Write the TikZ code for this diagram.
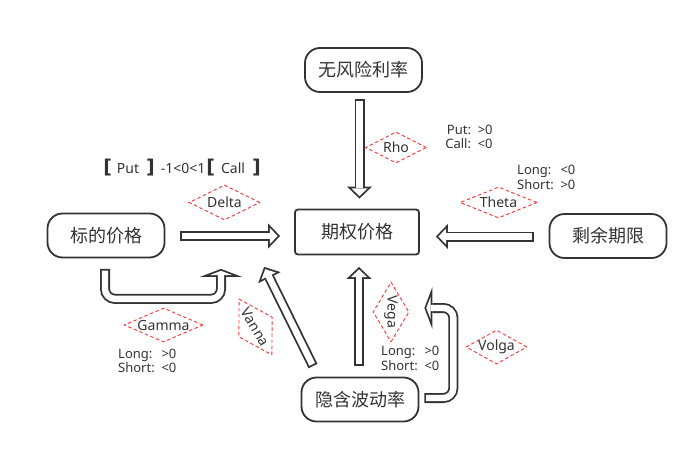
\documentclass[tikz,border=0pt]{standalone}
\usepackage{fontspec}
\setmainfont{Noto Sans}
\newfontfamily\cjk{Noto Sans CJK SC}
\newfontfamily\brkfont{DejaVu Sans}
\usetikzlibrary{arrows.meta,positioning,calc,shapes.geometric}

\definecolor{linec}{HTML}{333333}
\definecolor{dashred}{HTML}{FF3333}

\newcommand\brak[1]{{\brkfont\fontsize{19}{19}\selectfont\bfseries #1}}
\newcommand\gk[1]{\makebox[0pt]{#1}}

\tikzset{
  pill/.style={draw=linec, line width=1.8pt, rounded corners=15pt, minimum width=117pt,
    minimum height=44pt, inner sep=0pt, text=linec, font=\cjk\fontsize{18}{18}\selectfont},
  pricebox/.style={pill, rounded corners=3pt, minimum width=124pt, minimum height=45pt},
  greek/.style={diamond, draw=dashred, line width=0.9pt, dash pattern=on 3.5pt off 2.5pt,
    inner sep=0pt, text=linec, font=\fontsize{14}{14}\selectfont},
  sign/.style={inner sep=0pt, text=linec, font=\fontsize{13}{14.5}\selectfont},
  arrout/.style={line width=10pt, draw=linec, -{Triangle[length=12pt,width=25pt,line width=0pt]}},
  arrin/.style={line width=6.4pt, draw=white, -{Triangle[length=7.7pt,width=16pt,line width=0pt]},
    shorten >=2.5pt, shorten <=1.8pt},
  uout/.style={arrout, rounded corners=10pt, -{Triangle[length=8pt,width=42pt,line width=0pt]}},
  uin/.style={arrin, rounded corners=10pt, -{Triangle[length=4.3pt,width=22.5pt,line width=0pt]},
    shorten >=1.9pt},
}

\begin{document}
\begin{tikzpicture}[x=1pt,y=-1pt]
    \path[use as bounding box, fill=white] (0,0) rectangle (699,453);

    % Factors and option price
    \node[pill] (rate) at (363.5,70) {无风险利率};
    \node[pricebox] (price) at (357,232) {期权价格};
    \node[pill] (spot) at (106,235.5) {标的价格};
    \node[pill] (expiry) at (608,236) {剩余期限};
    \node[pill] (vol) at (360,399.5) {隐含波动率};

    % Straight hollow arrows
    \coordinate (rhoA) at ($(rate.south)+(-4,6)$);
    \coordinate (rhoB) at ($(price.north)+(2.5,-10)$);
    \coordinate (deltaA) at ($(spot.east)+(15,0.5)$);
    \coordinate (deltaB) at ($(price.west)+(-14,4)$);
    \coordinate (thetaA) at ($(expiry.west)+(-14.5,0.5)$);
    \coordinate (thetaB) at ($(price.east)+(16,4.5)$);
    \coordinate (vegaA) at ($(vol.north)+(-1,-10.5)$);
    \coordinate (vegaB) at ($(price.south)+(2,11.5)$);
    \coordinate (vannaA) at ($(vol.north)+(-47,-10.5)$);
    \coordinate (vannaB) at ($(price.south west)+(-30,11.5)$);

    \foreach \a/\b in {rhoA/rhoB, deltaA/deltaB, thetaA/thetaB, vegaA/vegaB, vannaA/vannaB} {
        \draw[arrout] (\a) -- (\b);
        \draw[arrin] (\a) -- (\b);
    }

    % Second order loops
    \coordinate (gammaA) at ($(spot.south)+(-1,10.5)$);
    \coordinate (volgaA) at ($(vol.east)+(5,-1.5)$);
    \draw[uout] (gammaA) -- ++(0,30) -- ++(116,0) -- ++(0,-30);
    \draw[uin] (gammaA) -- ++(0,30) -- ++(116,0) -- ++(0,-30);
    \draw[uout] (volgaA) -- ++(29,0) -- ++(0,-90) -- ++(-29,0);
    \draw[uin] (volgaA) -- ++(29,0) -- ++(0,-90) -- ++(-29,0);

    % Greeks
    \node[greek, minimum width=61pt, minimum height=31pt] (rho) at (396,147.5) {\gk{Rho}};
    \node[greek, minimum width=71pt, minimum height=35pt] (delta) at (224.5,202.5) {\gk{Delta}};
    \node[greek, minimum width=77pt, minimum height=31pt] (theta) at (498.5,202.5) {\gk{Theta}};
    \node[greek, minimum width=79pt, minimum height=34pt] (gamma) at (163.5,325) {\gk{Gamma}};
    \node[greek, minimum width=65pt, minimum height=39pt, rotate=-59.5] (vanna) at (255.5,327) {\gk{Vanna}};
    \node[greek, minimum width=60pt, minimum height=36pt, rotate=-90] (vega) at (391,312) {\gk{Vega}};
    \node[greek, minimum width=61pt, minimum height=34pt] (volga) at (496.5,347) {\gk{Volga}};

    % Signs
    \node[text=linec, inner sep=0pt, font=\fontsize{14}{14}\selectfont] (range) at (182,168)
        {\brak{[}\hspace{5pt}Put\hspace{7pt}\brak{]}\hspace{6pt}-1<0<1\hspace{1pt}\brak{[}\hspace{6pt}Call\hspace{7pt}\brak{]}};
    \node[sign] (rhoval) at (469,138.5)
        {\begin{tabular}{@{}r@{\ \ }l@{}}Put: & >0\\ Call: & <0\end{tabular}};
    \node[sign, anchor=west] (thetaval) at (517,179)
        {\begin{tabular}{@{}l@{\ \ }l@{}}Long: & <0\\ Short: & >0\end{tabular}};
    \node[sign, anchor=west] (gammaval) at (118,362.5)
        {\begin{tabular}{@{}l@{\ \ }l@{}}Long: & >0\\ Short: & <0\end{tabular}};
    \node[sign, anchor=west] (vegaval) at (381,360)
        {\begin{tabular}{@{}l@{\ \ }l@{}}Long: & >0\\ Short: & <0\end{tabular}};
\end{tikzpicture}
\end{document}
